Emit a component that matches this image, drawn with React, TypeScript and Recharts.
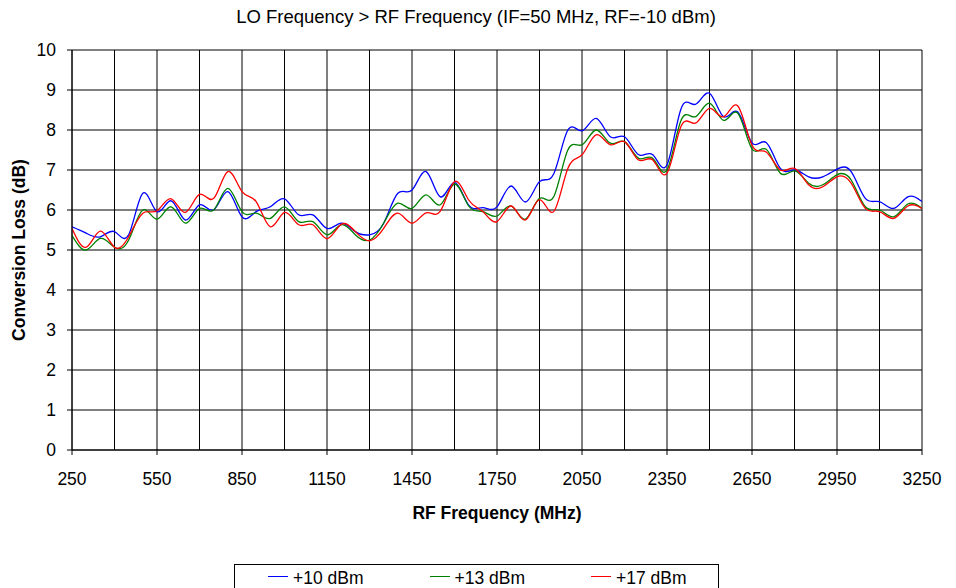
import React from 'react';
import { LineChart, Line, XAxis, YAxis, CartesianGrid } from 'recharts';

const freqs = [250, 300, 350, 400, 450, 500, 550, 600, 650, 700, 750, 800, 850, 900, 950, 1000, 1050, 1100, 1150, 1200, 1250, 1300, 1350, 1400, 1450, 1500, 1550, 1600, 1650, 1700, 1750, 1800, 1850, 1900, 1950, 2000, 2050, 2100, 2150, 2200, 2250, 2300, 2350, 2400, 2450, 2500, 2550, 2600, 2650, 2700, 2750, 2800, 2850, 2900, 2950, 3000, 3050, 3100, 3150, 3200, 3250];

const lo10 = [5.58, 5.42, 5.33, 5.46, 5.38, 6.42, 5.96, 6.23, 5.75, 6.13, 6.0, 6.46, 5.83, 5.96, 6.08, 6.28, 5.88, 5.88, 5.54, 5.67, 5.46, 5.38, 5.67, 6.42, 6.5, 6.96, 6.33, 6.69, 6.12, 6.06, 6.08, 6.6, 6.2, 6.71, 6.9, 8.0, 7.98, 8.29, 7.83, 7.83, 7.38, 7.38, 7.13, 8.54, 8.64, 8.92, 8.33, 8.45, 7.68, 7.69, 7.04, 7.0, 6.83, 6.83, 7.02, 6.96, 6.29, 6.21, 6.04, 6.33, 6.21];

const lo13 = [5.36, 5.0, 5.29, 5.07, 5.25, 6.0, 5.77, 6.08, 5.67, 6.04, 6.0, 6.54, 5.96, 5.92, 5.79, 6.08, 5.71, 5.71, 5.38, 5.63, 5.38, 5.25, 5.67, 6.17, 6.04, 6.38, 6.13, 6.65, 6.1, 5.96, 5.85, 6.1, 5.77, 6.29, 6.33, 7.5, 7.63, 8.0, 7.67, 7.71, 7.29, 7.29, 7.0, 8.25, 8.33, 8.67, 8.24, 8.42, 7.53, 7.52, 6.92, 6.98, 6.67, 6.63, 6.88, 6.75, 6.08, 6.0, 5.83, 6.15, 6.04];

const lo17 = [5.54, 5.07, 5.47, 5.07, 5.33, 5.92, 5.98, 6.28, 5.94, 6.39, 6.29, 6.96, 6.46, 6.21, 5.58, 5.94, 5.63, 5.63, 5.28, 5.64, 5.46, 5.23, 5.54, 5.92, 5.67, 5.93, 5.97, 6.71, 6.25, 5.96, 5.71, 6.1, 5.75, 6.26, 5.96, 7.04, 7.38, 7.88, 7.63, 7.71, 7.25, 7.25, 6.92, 8.1, 8.17, 8.54, 8.33, 8.6, 7.62, 7.45, 7.0, 7.04, 6.63, 6.58, 6.83, 6.67, 6.04, 5.96, 5.79, 6.1, 6.04];

const xTicks = [250, 550, 850, 1150, 1450, 1750, 2050, 2350, 2650, 2950, 3250];
const xGrid = [250, 400, 550, 700, 850, 1000, 1150, 1300, 1450, 1600, 1750, 1900, 2050, 2200, 2350, 2500, 2650, 2800, 2950, 3100, 3250];
const yTicks = [0, 1, 2, 3, 4, 5, 6, 7, 8, 9, 10];

const seriesNames = ['+10 dBm', '+13 dBm', '+17 dBm'];
const seriesKeys = ['lo10', 'lo13', 'lo17'];
const seriesColors = ['#0000ff', '#008000', '#ff0000'];

const data = freqs.map((f, i) => ({ f, lo10: lo10[i], lo13: lo13[i], lo17: lo17[i] }));

const FONT = '"Liberation Sans", Arial, sans-serif';

const vGen = (props: any) => {
  const s = props?.xAxis?.scale;
  if (!s) return [];
  const fn = typeof s === 'function' ? (v: number) => s(v) : (v: number) => s.map(v);
  return xGrid.map((v) => fn(v));
};

export default function App() {
  return (
    <div style={{ position: 'absolute', left: 0, top: 0, width: 956, height: 588, background: '#fff', fontFamily: FONT, overflow: 'hidden' }}>
      <div style={{ position: 'absolute', left: 0, top: 8, width: 952, textAlign: 'center', fontSize: 18.5, lineHeight: '18px', color: '#000' }}>
        LO Frequency &gt; RF Frequency (IF=50 MHz, RF=-10 dBm)
      </div>
      <LineChart width={956} height={588} data={data} margin={{ top: 50, right: 34, bottom: 68, left: 0 }}>
        <CartesianGrid stroke="#000" strokeWidth={1} verticalCoordinatesGenerator={vGen} />
        <XAxis
          dataKey="f"
          type="number"
          domain={[250, 3250]}
          ticks={xTicks}
          height={70}
          tickSize={5}
          tickMargin={18}
          stroke="#000"
          tick={{ fill: '#000', fontSize: 17.5, fontFamily: FONT }}
          interval={0}
          allowDataOverflow
        />
        <YAxis
          type="number"
          domain={[0, 10]}
          ticks={yTicks}
          width={72}
          tickSize={5}
          tickMargin={11}
          stroke="#000"
          tick={{ fill: '#000', fontSize: 17.5, fontFamily: FONT }}
          interval={0}
        />
        {seriesKeys.map((k, i) => (
          <Line
            key={k}
            type="natural"
            dataKey={k}
            name={seriesNames[i]}
            stroke={seriesColors[i]}
            strokeWidth={1.3}
            dot={false}
            isAnimationActive={false}
          />
        ))}
      </LineChart>
      <div style={{ position: 'absolute', left: 0, top: 504, width: 994, textAlign: 'center', fontSize: 17.5, lineHeight: '18px', fontWeight: 'bold', color: '#000' }}>
        RF Frequency (MHz)
      </div>
      <div style={{ position: 'absolute', left: 19, top: 250, transform: 'translate(-50%, -50%) rotate(-90deg)', whiteSpace: 'nowrap', fontSize: 17.5, lineHeight: '18px', fontWeight: 'bold', color: '#000' }}>
        Conversion Loss (dB)
      </div>
      <div style={{ position: 'absolute', left: 234, top: 564, width: 485, height: 40, border: '1px solid #000', boxSizing: 'border-box' }}>
        {seriesNames.map((n, i) => (
          <div key={n} style={{ position: 'absolute', left: 33 + i * 161.5, top: 4, display: 'flex', alignItems: 'center', fontSize: 17.5, lineHeight: '18px', whiteSpace: 'nowrap' }}>
            <span style={{ display: 'inline-block', width: 20, height: 0, borderTop: `1.3px solid ${seriesColors[i]}`, marginRight: 5, marginTop: -3 }} />
            <span>{n}</span>
          </div>
        ))}
      </div>
    </div>
  );
}
